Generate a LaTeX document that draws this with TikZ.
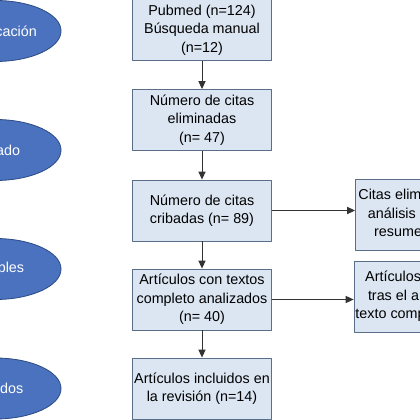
\documentclass[tikz,border=0pt]{standalone}
\usepackage{fontspec}
\setmainfont{Liberation Sans}
\usepackage{tikz}
\usetikzlibrary{arrows.meta, shapes.geometric}
\usepackage{xcolor}

\definecolor{boxfill}{HTML}{DCE6F2}
\definecolor{boxline}{HTML}{5B6E88}
\definecolor{phasefill}{HTML}{4A72BE}
\definecolor{phaseline}{HTML}{2E4C86}

\begin{document}
\begin{tikzpicture}[
  x=0.025cm,
  y=-0.025cm,
  line join=round,
  boxtext/.style={font=\fontsize{10.2}{13.2}\selectfont, align=center},
  stagebox/.style={boxtext, draw=boxline, fill=boxfill, line width=0.6pt,
    minimum width=3.475cm, minimum height=1.525cm, inner sep=1pt},
  sidebox/.style={stagebox, minimum height=1.775cm},
  phase/.style={ellipse, boxtext, draw=phaseline, fill=phasefill,
    line width=0.6pt, text=white, minimum width=3.3cm,
    minimum height=1.525cm, inner sep=0pt},
  flow/.style={-{Triangle[length=2mm,width=1.8mm]}, draw=black!80,
    line width=0.7pt}
]
  \useasboundingbox (0,0) rectangle (420,420);
  \clip (0,0) rectangle (420,420);

  % Phases of the review, cut by the left margin
  \node[phase] (ident) at (-5,31)    {Identificación};
  \node[phase] (cribado) at (-5,150) {Cribado};
  \node[phase] (elegib) at (-5,269)  {Elegibles};
  \node[phase] (inclu) at (-5,388.5) {Incluidos};

  % Main column of the flow chart
  \node[stagebox] (pubmed) at (202,30)
    {Pubmed (n=124)\\Búsqueda manual\\(n=12)};
  \node[stagebox] (elimin) at (202,120)
    {Número de citas\\eliminadas\\(n= 47)};
  \node[stagebox] (cribas) at (202,210.5)
    {Número de citas\\cribadas (n= 89)};
  \node[stagebox] (textos) at (202,299.5)
    {Artículos con textos\\completo analizados\\(n= 40)};
  \node[stagebox] (revis) at (202,388.5)
    {Artículos incluidos en\\la revisión (n=14)};

  % Excluded records, cut by the right margin
  \node[sidebox] (resum) at (425,214.5)
    {Citas eliminadas tras\\análisis de título y\\resumen (n=49)};
  \node[sidebox] (compl) at (425,296.5)
    {Artículos excluidos\\tras el análisis del\\texto completo (n=26)};

  % Arrows
  \draw[flow] (pubmed) -- (elimin);
  \draw[flow] (elimin) -- (cribas);
  \draw[flow] (cribas) -- (textos);
  \draw[flow] (textos) -- (revis);
  \draw[flow] (cribas) -- (cribas -| resum.west);
  \draw[flow] (textos) -- (textos -| compl.west);

\end{tikzpicture}
\end{document}
